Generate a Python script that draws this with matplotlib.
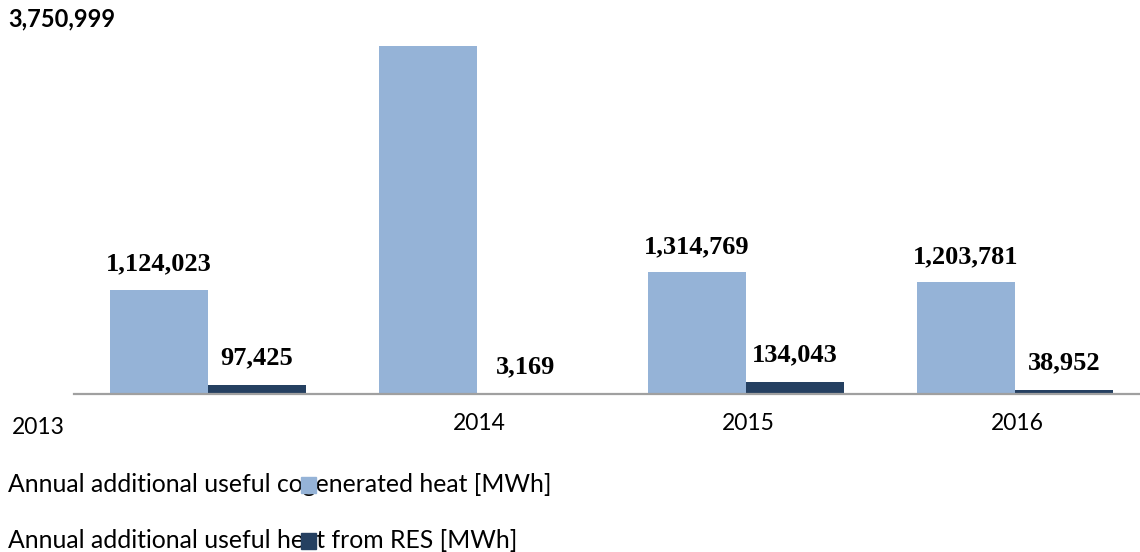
import matplotlib
matplotlib.use('Agg')
import matplotlib.pyplot as plt
import numpy as np

years = ['2013', '2014', '2015', '2016']
cogen_heat = [1124023, 3750999, 1314769, 1203781]
res_heat = [97425, 3169, 134043, 38952]
series_names = ['Annual additional useful cogenerated heat [MWh]',
                'Annual additional useful heat from RES [MWh]']
colors = ['#95B3D7', '#254061']

sans = ['Lato', 'DejaVu Sans']
serif = ['Liberation Serif', 'DejaVu Serif']

fig = plt.figure(figsize=(11.4, 5.52), dpi=100)
ax = fig.add_axes([73.5/1140, 158/552, 1076/1140, 348/552])

x = np.arange(len(years))
w = 0.364
b1 = ax.bar(x - w/2, cogen_heat, w, color=colors[0], clip_on=False)
b2 = ax.bar(x + w/2, res_heat, w, color=colors[1], clip_on=False)

ax.set_xlim(-0.5, 3.5)
ax.set_ylim(0, max(cogen_heat))
for s in ['top', 'right', 'left']:
    ax.spines[s].set_visible(False)
ax.spines['bottom'].set_color('#a0a0a0')
ax.spines['bottom'].set_linewidth(1.6)
ax.set_yticks([])

# category labels (first one sits at far left in the original)
ax.set_xticks(x[1:] + 0.01)
ax.set_xticklabels(years[1:], family=sans, fontsize=16.5)
ax.tick_params(axis='x', length=0, pad=14)
fig.text(12/1140, 1 - 427/552, years[0], family=sans, fontsize=16.5, va='center', ha='left')

# value labels
for i in range(len(years)):
    if i == 1:
        fig.text(8/1140, 1 - 19/552, f'{cogen_heat[i]:,}', family=sans, fontsize=17,
                 fontweight='bold', va='center', ha='left')
    else:
        ax.annotate(f'{cogen_heat[i]:,}', (x[i] - w/2, cogen_heat[i]), xytext=(0, 18.5),
                    textcoords='offset points', ha='center', va='center',
                    family=serif, fontweight='bold', fontsize=19)
    ax.annotate(f'{res_heat[i]:,}', (x[i] + w/2, res_heat[i]), xytext=(0, 19.5),
                textcoords='offset points', ha='center', va='center',
                family=serif, fontweight='bold', fontsize=19)

# legend, laid out as in the original (squares sit on top of the text)
for k, name in enumerate(series_names):
    yc = 1 - (484 + 56*k)/552
    fig.text(8/1140, yc, name, family=sans, fontsize=17.8, va='center', ha='left')
    fig.patches.append(plt.Rectangle((301/1140, yc - 9/552), 15/1140, 16/552,
                                     transform=fig.transFigure, color=colors[k], zorder=5))

plt.savefig('out.png', dpi=100)
